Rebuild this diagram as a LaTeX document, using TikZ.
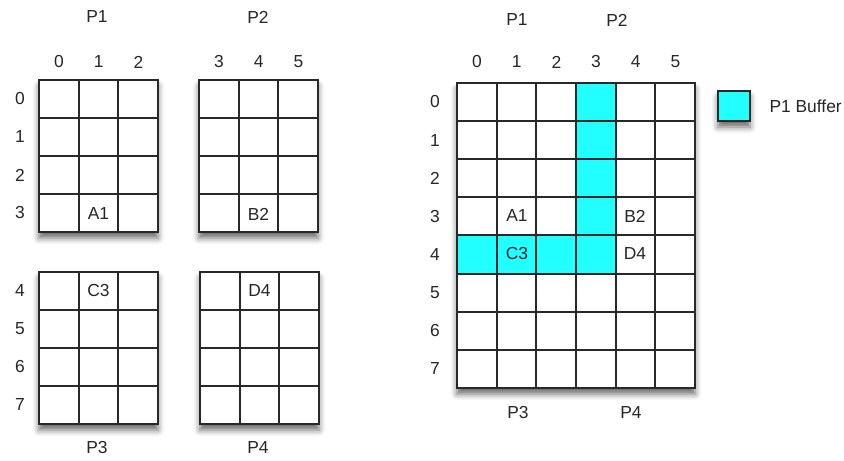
\documentclass[tikz,border=0pt]{standalone}
\usepackage{fontspec}
\setmainfont{Liberation Sans}
\usepackage{xcolor}
\usepackage{tikz}
\usetikzlibrary{positioning,shadows.blur}
\definecolor{bufcyan}{RGB}{34,255,255}
\definecolor{gridgray}{RGB}{40,40,40}

\begin{document}
\begin{tikzpicture}[
  x=0.5pt, y=-0.5pt,
  gridbox/.style={draw=gridgray, line width=1.1pt, fill=white,
                  blur shadow={shadow xshift=0pt, shadow yshift=-3pt,
                               shadow blur radius=3pt, shadow opacity=60}},
  gridline/.style={draw=gridgray, line width=1pt},
  bufcell/.style={fill=bufcyan},
  keybox/.style={draw=gridgray, line width=1.1pt, fill=bufcyan,
                 minimum width=16pt, minimum height=15pt, inner sep=0pt,
                 blur shadow={shadow xshift=0pt, shadow yshift=-3pt,
                              shadow blur radius=3pt, shadow opacity=60}},
  lbl/.style={font=\fontsize{8.7}{10}\selectfont, text=black!85, inner sep=0pt}
]
  \useasboundingbox (0,0) rectangle (844,460);

  % four separate blocks
  \foreach \gx/\gy in {39/80, 199/80, 39/272, 200/272} {
    \path[gridbox] (\gx,\gy) rectangle ++(119,152);
    \foreach \i in {1,2}
      \draw[gridline] ({\gx+\i*39.67},\gy) -- ++(0,152);
    \foreach \j in {1,2,3}
      \draw[gridline] (\gx,{\gy+\j*38}) -- ++(119,0);
  }

  \node[lbl] (lp1) at (97,17)  {P1};
  \node[lbl] (lp2) at (258,17) {P2};
  \node[lbl] (lp3) at (97,448) {P3};
  \node[lbl] (lp4) at (258,448) {P4};
  \foreach \k in {0,1,2}
    \node[lbl] (lc\k) at ({59+\k*39.67},62) {\k};
  \foreach \k in {3,4,5}
    \node[lbl] (lc\k) at ({219+(\k-3)*39.67},62) {\k};
  \foreach \k in {0,...,3}
    \node[lbl] (lr\k) at (20,{99+\k*38}) {\k};
  \foreach \k in {4,...,7}
    \node[lbl] (lr\k) at (20,{291+(\k-4)*38}) {\k};
  \node[lbl] (la1) at (98.5,214)  {A1};
  \node[lbl] (lb2) at (258.5,214) {B2};
  \node[lbl] (lc3) at (98.5,291)  {C3};
  \node[lbl] (ld4) at (259.5,291) {D4};

  % whole matrix with the P1 buffer
  \path[gridbox] (457,83) rectangle (695,388);
  \path[bufcell] (576,83) rectangle (615.7,273.5);
  \path[bufcell] (457,235.4) rectangle (576,273.5);
  \foreach \i in {1,...,5}
    \draw[gridline] ({457+\i*39.67},83) -- ++(0,305);
  \foreach \j in {1,...,7}
    \draw[gridline] (457,{83+\j*38.1}) -- ++(238,0);
  \draw[gridline, line width=1.1pt] (457,83) rectangle (695,388);

  \node[lbl] (rp1) at (517,20)  {P1};
  \node[lbl] (rp2) at (617,20)  {P2};
  \node[lbl] (rp3) at (518,413) {P3};
  \node[lbl] (rp4) at (631,413) {P4};
  \foreach \k in {0,...,5}
    \node[lbl] (rc\k) at ({477+\k*39.67},62) {\k};
  \foreach \k in {0,...,7}
    \node[lbl] (rr\k) at (435,{102+\k*38.1}) {\k};
  \node[lbl] (ra1) at (517,216) {A1};
  \node[lbl] (rb2) at (635,216) {B2};
  \node[lbl] (rc3) at (517,254) {C3};
  \node[lbl] (rd4) at (635,254) {D4};

  \node[keybox] (key) at (734,106) {};
  \node[lbl, right=9pt of key] (keytext) {P1 Buffer};
\end{tikzpicture}
\end{document}
